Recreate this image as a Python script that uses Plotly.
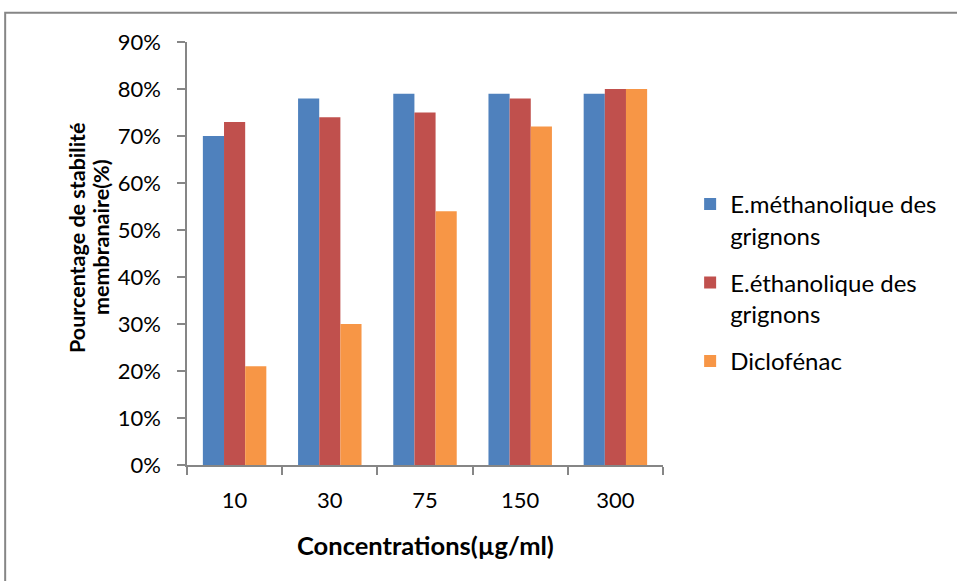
import plotly.graph_objects as go

# Concentrations tested (µg/ml) and membrane stability (%) per extract
concentrations = ["10", "30", "75", "150", "300"]
methanol_extract = [70, 78, 79, 79, 79]
ethanol_extract = [73, 74, 75, 78, 80]
diclofenac = [21, 30, 54, 72, 80]

series_names = [
    "E.méthanolique des<br>grignons",
    "E.éthanolique des<br>grignons",
    "Diclofénac",
]
series_values = [methanol_extract, ethanol_extract, diclofenac]
series_colors = ["#4F81BD", "#C0504D", "#F79646"]

y_title_lines = ["Pourcentage de stabilité", "membranaire(%)"]
x_title = "Concentrations(µg/ml)"

FONT = "Lato, 'Open Sans', sans-serif"
AXIS_GRAY = "#868686"

fig = go.Figure()
for i, (name, vals, color) in enumerate(zip(series_names, series_values, series_colors)):
    fig.add_trace(go.Bar(
        x=concentrations,
        y=[v / 100 for v in vals],
        name=name,
        legendgroup=f"g{i}",
        marker=dict(color=color, line=dict(width=0)),
    ))

fig.update_layout(
    width=957,
    height=581,
    margin=dict(l=187, r=294, t=42, b=116),
    paper_bgcolor="white",
    plot_bgcolor="white",
    barmode="group",
    bargap=1 / 3,
    bargroupgap=0,
    font=dict(family=FONT, size=22, color="black"),
    showlegend=True,
    legend=dict(
        x=1.057, xanchor="left",
        y=0.669, yanchor="top",
        traceorder="grouped",
        tracegroupgap=13,
        valign="top",
        font=dict(family=FONT, size=24, color="black"),
        bgcolor="rgba(0,0,0,0)",
    ),
    xaxis=dict(
        type="category",
        showline=True, linecolor=AXIS_GRAY, linewidth=1.5,
        ticks="outside", tickson="boundaries", ticklen=8,
        tickcolor=AXIS_GRAY, tickwidth=1.5,
        ticklabelstandoff=15,
        showgrid=False, zeroline=False,
        tickfont=dict(family=FONT, size=22),
    ),
    yaxis=dict(
        range=[0, 0.9], dtick=0.1, tick0=0, tickformat=".0%",
        showline=True, linecolor=AXIS_GRAY, linewidth=1.5,
        ticks="outside", ticklen=8, tickcolor=AXIS_GRAY, tickwidth=1.5,
        ticklabelstandoff=12,
        showgrid=False, zeroline=False,
        tickfont=dict(family=FONT, size=22),
    ),
)

# Y-axis title: two tightly spaced rotated lines
for line_text, x_pos in zip(y_title_lines, [-0.2311, -0.1807]):
    fig.add_annotation(
        text=f"<b>{line_text}</b>",
        xref="paper", yref="paper", x=x_pos, y=0.539,
        xanchor="center", yanchor="middle", textangle=-90, showarrow=False,
        font=dict(family=FONT, size=21.5, color="black"),
    )

# X-axis title
fig.add_annotation(
    text=f"<b>{x_title}</b>",
    xref="paper", yref="paper", x=0.5, y=-0.189,
    xanchor="center", yanchor="middle", showarrow=False,
    font=dict(family=FONT, size=25.5, color="black"),
)

# Chart frame
fig.add_shape(
    type="rect", xref="paper", yref="paper",
    x0=-0.382, x1=1.63, y0=-0.3, y1=1.069,
    line=dict(color=AXIS_GRAY, width=2), fillcolor="rgba(0,0,0,0)",
    layer="below",
)

fig.write_html("out.html")
